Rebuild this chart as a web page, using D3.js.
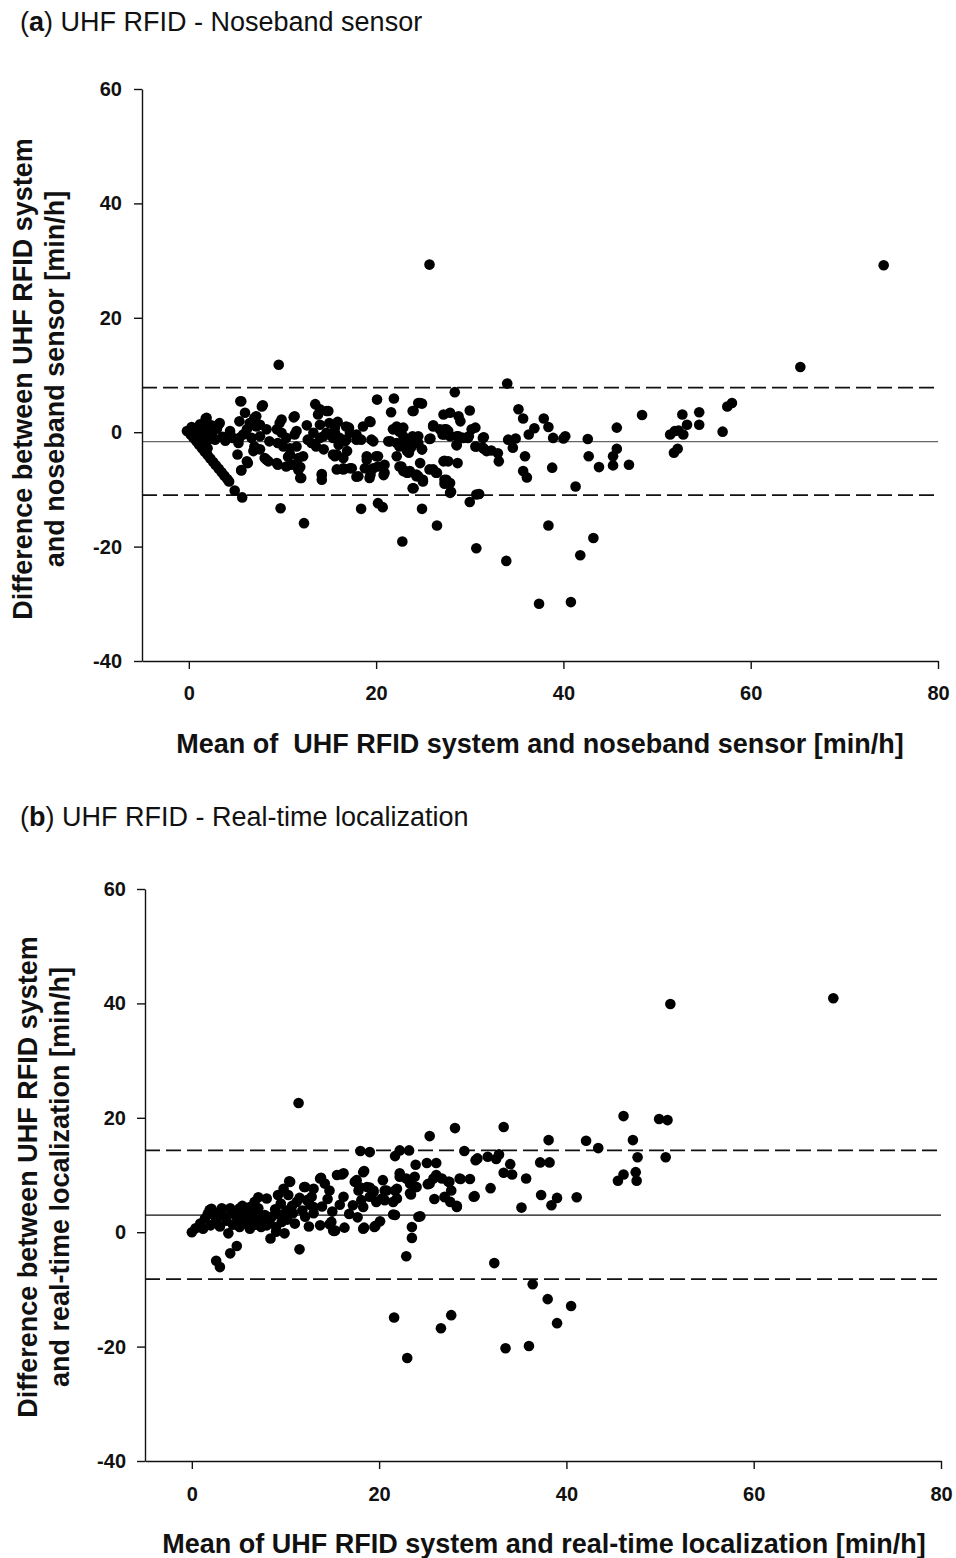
<!DOCTYPE html>
<html>
<head>
<meta charset="utf-8">
<script src="https://cdn.jsdelivr.net/npm/d3@7"></script>
<style>
  body { margin: 0; background: #fff; }
  svg text { font-family: Arial, "Liberation Sans", sans-serif; }
</style>
</head>
<body>
<svg id="mysvg"></svg>
<script>
const w = 956, h = 1558;

// tick values
const xTicks = [0, 20, 40, 60, 80];
const yTicks = [-40, -20, 0, 20, 40, 60];

// limits of agreement (mean difference, upper, lower)
const limitsA = [-1.65, 7.8, -11.0];
const limitsB = [3.0, 14.3, -8.2];

// panel (a): [mean, difference]
const pointsA = [
  [74.2,29.2],[65.3,11.4],[58.0,5.1],[57.5,4.5],[57.0,0.1],[54.5,3.5],[54.5,1.3],[52.7,3.1],[53.2,1.3],[51.4,-0.4],
  [51.9,0.2],[52.3,0.3],[52.8,-0.4],[52.2,-2.9],[51.8,-3.6],[48.4,3.0],[45.7,0.8],[45.7,-2.9],[45.3,-4.2],[45.3,-5.8],
  [47.0,-5.7],[43.8,-6.1],[42.7,-4.2],[42.6,-1.2],[40.2,-0.7],[40.0,-1.1],[41.3,-9.5],[43.2,-18.5],[41.8,-21.5],[40.8,-29.7],
  [37.4,-30.0],[33.9,-22.5],[30.7,-20.3],[38.4,-16.3],[25.7,29.3],[9.6,11.8],[34.0,8.5],
  [28.4,7.0],[24.7,5.1],[24.9,5.0],[24.0,3.7],[27.2,3.1],[27.9,3.4],[28.8,2.8],[29.0,1.9],[30.0,3.8],[26.1,1.2],
  [27.3,0.5],[27.7,0.2],[27.1,-0.4],[27.9,-0.7],[28.8,-0.7],[29.8,-1.0],[30.2,0.5],[25.8,-1.1],[23.9,-0.7],[23.3,-1.3],
  [28.6,-2.3],[30.7,-2.5],[31.5,-0.9],[31.5,-2.9],[32.3,-3.2],[33.0,-3.7],[33.1,-5.1],[34.1,-1.3],[34.9,-1.1],[34.6,-2.7],
  [35.2,4.0],[35.7,2.4],[36.3,-0.4],[36.9,0.7],[37.9,2.4],[38.4,0.9],[38.9,-1.0],[35.9,-4.2],[35.7,-6.8],[36.1,-7.9],
  [38.8,-6.2],[26.5,-16.3],[24.9,-13.4],[22.8,-19.1],[30.0,-12.2],[31.0,-10.8],[27.9,-10.6],[27.9,-8.9],[27.5,-8.3],[27.3,-9.0],
  [26.1,-6.5],[26.5,-7.1],[27.2,-5.1],[27.7,-5.1],[28.7,-5.4],[24.7,-5.4],[24.5,-7.7],[25.0,-8.6],[24.0,-9.8],[22.9,-6.8],
  [23.4,-7.1],[22.7,-6.0],[22.9,-2.2],[23.5,-3.6],[24.9,-3.0],[22.9,0.8],
  [5.6,5.4],[7.8,4.5],[1.8,2.4],[3.2,1.4],[0.3,0.9],[4.9,-10.2],[5.7,-11.4],[9.8,-13.3],[12.3,-15.9],[18.4,-13.4],
  [20.2,-12.4],[20.7,-13.1],[20.1,5.7],[21.9,5.9],[21.6,3.5],[23.9,3.7],[13.5,4.9],[14.0,4.0],[14.9,3.7],[11.2,2.6],
  [9.9,2.2],[12.6,1.2],[15.9,1.8],[19.4,1.8],[17.1,0.8],[4.4,-0.1],[5.4,-1.0],[6.2,0.5],[7.0,2.5],[7.2,1.0],
  [7.6,-0.7],[8.3,-4.8],[6.3,-5.4],[5.6,-6.7],[5.2,-3.9],[9.4,0.5],[9.5,-5.7],[10.4,-6.0],[10.8,-3.9],[12.2,-4.2],
  [11.9,-6.1],[11.9,-8.0],[14.2,-7.3],[14.2,-8.3],[11.3,-0.4],[12.7,-1.3],[13.6,-2.5],[14.4,-0.7],[15.8,-3.9],[16.5,-6.5],
  [17.2,-6.3],[18.1,-7.7],[19.0,-4.2],[19.4,-7.4],[19.7,-6.3],[20.2,-4.2],[20.9,-7.1],[22.5,-6.0],[23.3,-7.1],[24.3,-7.7],
  [17.9,-1.3],[16.8,-1.3],[19.7,-1.6],[21.3,-1.6],[22.2,0.5],[22.9,-0.7],[22.2,-4.2],[23.6,-3.0],[24.5,-0.7],[24.5,5.1],
  [0.2,-0.4],[0.5,-1.0],[0.8,-1.6],[1.1,-2.2],[1.4,-2.8],[1.7,-3.4],[2.0,-4.0],[2.3,-4.6],[2.6,-5.2],[2.9,-5.8],
  [3.2,-6.4],[3.5,-7.0],[3.8,-7.6],[4.1,-8.2],[4.3,-8.6],
  [0.3,0.5],[-0.2,0.2],[1.9,2.5],[1.5,1.0],[1.5,-0.7],[2.1,0.5],[3.3,1.6],[5.5,5.4],[7.9,4.7],[6.0,3.4],
  [5.4,1.9],[6.5,1.6],[4.4,0.2],[4.7,-1.0],[5.3,-1.9],[5.8,-0.4],[6.7,-1.0],[7.0,-2.5],[7.6,-3.0],[6.9,-3.3],
  [6.2,-5.1],[5.6,-6.6],[7.2,2.8],[7.6,1.3],[8.3,0.5],[8.6,-1.6],[8.1,-4.5],[8.5,-5.1],[9.4,-5.4],[9.7,1.6],
  [9.9,-0.1],[9.5,-1.9],[10.4,-1.0],[10.1,-2.5],[10.8,-2.8],[11.3,2.8],[11.5,0.2],[11.5,-2.5],[11.7,-4.5],[10.6,-4.3],
  [11.0,-5.7],[11.7,-6.6],[12.0,-8.0],[13.8,3.1],[14.7,3.7],[15.0,1.6],[14.0,1.3],[13.3,-0.1],[13.1,-1.9],[14.0,-1.0],
  [14.7,-0.1],[15.6,0.8],[14.4,-3.0],[15.6,-4.2],[15.4,-1.0],[16.0,-2.2],[15.8,-6.5],[14.2,-7.5],
  [16.8,1.0],[17.2,-0.1],[17.9,-0.4],[18.6,1.0],[19.3,1.9],[18.4,-1.3],[16.7,-1.6],[15.6,-0.1],[16.1,-1.0],[19.5,-1.3],
  [21.8,0.5],[22.2,1.0],[22.5,0.1],[23.4,-1.6],[24.0,-1.0],[24.5,-1.9],[24.9,-3.0],[23.8,-2.5],[21.5,-1.6],[22.2,-1.9],
  [22.5,-2.5],[23.3,-3.3],[25.7,-1.2],[26.1,1.0],[26.8,0.5],[27.3,-0.4],[27.5,0.5],[28.6,-0.7],[29.3,-1.0],[29.9,-0.7],
  [30.6,0.8],[31.4,-1.0],[30.6,-2.5],[31.4,-2.7],[31.8,-3.3],[28.6,-2.2],[15.4,-3.9],[16.5,-4.5],[16.9,-3.3],[16.5,-6.3],
  [17.4,-6.3],[17.9,-7.8],[19.0,-4.8],[18.8,-6.3],[19.5,-6.5],[19.3,-8.0],[20.0,-4.2],[20.2,-6.0],[20.8,-7.5],[20.9,-5.7],
  [23.1,-6.8],[23.6,-6.8],[24.3,-7.4],[25.0,-8.3],[23.9,-9.8],[25.7,-6.5],[26.4,-7.1],[27.3,-5.0],[27.3,-8.3],[27.5,-8.9],
  [28.0,-10.4],[30.7,-10.9],
  [0.8,0.3],[1.0,-0.5],[1.3,0.0],[1.6,-0.9],[1.8,-1.8],[2.2,-1.2],[2.5,-0.3],[2.8,-1.3],[3.0,0.6],[3.6,-0.8],
  [2.4,1.2],[1.2,1.4],[0.6,-0.1],[3.9,-1.5],[1.7,-2.3],[2.0,-2.8]
];

// panel (b): [mean, difference]
const pointsB = [
  [68.5,40.9],[51.1,39.9],[11.4,22.6],[46.1,20.3],[49.9,19.8],[50.8,19.6],[28.1,18.2],[33.3,18.4],[25.4,16.8],[38.1,16.1],
  [42.1,16.0],[43.4,14.7],[47.1,16.1],[22.2,14.3],[23.2,14.3],[29.1,14.2],[30.3,12.6],[30.5,12.9],[31.6,13.2],[32.5,12.8],
  [32.8,13.6],[25.1,12.1],[26.1,12.1],[23.9,11.8],[34.0,11.9],[37.2,12.2],[38.2,12.2],[47.6,13.1],[50.6,13.1],[33.3,10.4],
  [34.2,10.1],[35.7,9.4],[45.5,9.0],[46.1,10.1],[47.4,10.5],[47.5,9.0],[25.2,8.4],[25.8,9.4],[26.1,10.0],[26.7,9.4],
  [27.5,8.8],[28.7,9.3],[29.7,9.3],[22.2,9.7],[22.9,9.4],[23.8,9.7],[23.3,8.5],[23.9,7.9],[27.7,7.3],[31.9,7.7],
  [23.4,6.6],[25.9,5.8],[27.0,6.1],[27.6,5.3],[28.3,4.6],[30.2,6.3],[37.3,6.5],[39.0,6.0],[38.4,4.7],[41.1,6.1],
  [35.2,4.3],[24.4,2.8],[23.5,0.9],[23.5,-1.0],[22.9,-4.2],[32.3,-5.4],
  [33.5,-20.3],[36.0,-19.9],[36.4,-9.1],[38.0,-11.7],[39.0,-15.9],[40.5,-12.9],[27.7,-14.5],[26.6,-16.8],[21.6,-14.9],[23.0,-22.0],
  [11.5,-3.0],[4.8,-2.4],[4.1,-3.7],[2.6,-5.0],[3.0,-6.1],[8.4,-1.1],[9.0,0.1],[9.9,-0.2],
  [18.0,14.2],[19.0,14.0],[21.7,13.3],[16.0,10.1],[18.4,10.7],[13.8,9.5],[10.4,8.9],[12.0,7.9],[13.0,7.6],[9.8,7.6],
  [9.2,6.5],[7.1,6.1],[8.0,5.9],[17.6,9.1],[17.9,7.9],[19.0,7.8],[19.4,7.3],[20.3,5.9],[20.8,7.3],[21.9,7.6],
  [21.5,3.1],[24.2,2.7],[13.7,1.2],[14.7,1.4],[15.2,0.2],[16.3,0.8],[18.4,0.8],[19.6,1.1],[20.1,1.9],
  [0.0,0.0],[0.4,0.7],[0.9,1.5],[1.2,0.6],[1.4,2.4],[1.9,3.9],[2.1,4.1],[1.7,3.2],[3.2,4.2],[4.1,4.2],
  [5.1,4.2],[6.0,4.2],[7.1,4.2],[2.6,2.0],[3.7,2.0],[5.1,2.0],[6.2,2.0],[7.4,2.0],[8.3,2.0],[3.9,-0.2],
  [5.1,0.9],[6.2,0.6],[7.4,0.9],[9.0,0.9],[10.1,3.8],[11.2,5.3],[12.3,5.6],[13.0,4.4],[13.9,4.5],[10.8,3.3],
  [12.1,2.7],[13.0,3.3],
  [16.2,10.3],[18.3,10.5],[17.4,8.8],[17.8,7.3],[18.7,7.9],[19.4,7.0],[19.0,6.2],[20.4,9.1],[20.6,7.3],[21.7,7.3],
  [22.2,10.3],[24.0,7.9],[23.3,6.8],[25.4,8.5],[27.4,8.8],[27.0,6.2],[28.3,4.4],[28.6,9.4],[30.1,6.2],[21.7,3.0],
  [19.5,0.9],[18.3,0.6],[15.3,0.3],[14.7,7.3],[16.2,6.2],[17.2,4.7],[18.1,5.6],[18.3,4.4],[19.7,5.3],[20.6,5.6],
  [21.5,5.3],[21.9,5.9],
  [10.5,8.8],[10.3,6.5],[12.1,7.9],[13.7,9.4],[14.2,8.5],[15.5,10.0],[6.7,5.3],[6.2,4.4],[14.9,1.8],[15.1,0.3],
  [2.3,3.0],[2.9,3.5],[3.5,2.8],[4.5,3.2],[5.6,3.0],[6.5,3.4],[7.0,2.6],[7.8,3.0],[8.6,2.8],[9.5,3.0],
  [10.2,2.2],[11.0,1.5],[11.8,3.8],[12.6,4.8],[2.0,1.2],[3.0,1.0],[4.4,1.3],[5.8,1.5],[6.8,1.3],[8.0,1.2],
  [9.6,1.8],[4.8,2.6],[5.4,4.6],[8.9,4.0],[9.5,5.0],[10.7,4.6],[11.5,6.0],[12.8,6.2],[14.5,5.8],[15.0,3.6],
  [15.8,4.8],[16.8,3.2],[17.7,2.6],[12.5,1.0]
];

const svg = d3.select("#mysvg")
    .attr("width", w)
    .attr("height", h)
    .style("background", "#fff");

function drawPanel(cfg) {
    const xScale = d3.scaleLinear()
        .domain([-5, 80])
        .range([cfg.left, cfg.left + 796]);

    const yScale = d3.scaleLinear()
        .domain([-40, 60])
        .range([cfg.bottom, cfg.bottom - 572]);

    const g = svg.append("g");

    // title
    const title = g.append("text")
        .attr("x", 20)
        .attr("y", cfg.titleY)
        .attr("font-size", 27)
        .attr("fill", "#111");
    title.append("tspan").text("(");
    title.append("tspan").attr("font-weight", "bold").text(cfg.letter);
    title.append("tspan").text(") " + cfg.title);

    // mean difference line and limits of agreement
    g.append("line")
        .attr("x1", xScale(-5)).attr("x2", xScale(80))
        .attr("y1", yScale(cfg.limits[0])).attr("y2", yScale(cfg.limits[0]))
        .attr("stroke", cfg.meanColor)
        .attr("stroke-width", 1.3);

    g.selectAll(".loa")
        .data(cfg.limits.slice(1))
        .enter().append("line")
        .attr("class", "loa")
        .attr("x1", xScale(-5)).attr("x2", xScale(80))
        .attr("y1", d => yScale(d)).attr("y2", d => yScale(d))
        .attr("stroke", "#111")
        .attr("stroke-width", 1.6)
        .attr("stroke-dasharray", "15,6");

    // points
    g.selectAll(".dot")
        .data(cfg.points)
        .enter().append("circle")
        .attr("class", "dot")
        .attr("cx", d => xScale(d[0]))
        .attr("cy", d => yScale(d[1]))
        .attr("r", 5.3)
        .attr("fill", "#000");

    // Create X axis
    const xAxis = g.append("g")
        .attr("transform", "translate(0," + cfg.bottom + ")")
        .call(d3.axisBottom(xScale).tickValues(xTicks).tickFormat(d => String(d))
            .tickSize(8).tickSizeOuter(0).tickPadding(cfg.xPad));

    // Create Y axis
    const yAxis = g.append("g")
        .attr("transform", "translate(" + cfg.left + ",0)")
        .call(d3.axisLeft(yScale).tickValues(yTicks).tickFormat(d => String(d))
            .tickSize(8).tickSizeOuter(0).tickPadding(cfg.yPad));

    [xAxis, yAxis].forEach(ax => {
        ax.select(".domain").attr("stroke", "#111").attr("stroke-width", 1.4);
        ax.selectAll(".tick line").attr("stroke", "#111").attr("stroke-width", 1.4);
        ax.selectAll("text")
            .attr("font-family", "Arial, 'Liberation Sans', sans-serif")
            .attr("font-size", 20)
            .attr("font-weight", "bold")
            .attr("fill", "#111");
    });

    // axis labels
    g.append("text")
        .attr("x", cfg.xLabelX)
        .attr("y", cfg.xLabelY)
        .attr("text-anchor", "middle")
        .attr("font-size", 27)
        .attr("font-weight", "bold")
        .attr("fill", "#111")
        .style("white-space", "pre")
        .text(cfg.xLabel);

    cfg.yLabel.forEach((t, i) => {
        g.append("text")
            .attr("transform", "translate(" + cfg.yLabelX[i] + "," + cfg.yLabelMid + ") rotate(-90)")
            .attr("text-anchor", "middle")
            .attr("font-size", 27)
            .attr("font-weight", "bold")
            .attr("fill", "#111")
            .text(t);
    });
}

drawPanel({
    letter: "a",
    title: "UHF RFID - Noseband sensor",
    titleY: 31,
    left: 142,
    bottom: 661,
    points: pointsA,
    limits: limitsA,
    meanColor: "#666",
    xPad: 17,
    yPad: 12,
    xLabel: "Mean of  UHF RFID system and noseband sensor [min/h]",
    xLabelX: 540,
    xLabelY: 753,
    yLabel: ["Difference between UHF RFID system", "and noseband sensor [min/h]"],
    yLabelX: [32, 64],
    yLabelMid: 379
});

drawPanel({
    letter: "b",
    title: "UHF RFID - Real-time localization",
    titleY: 826,
    left: 145,
    bottom: 1461,
    points: pointsB,
    limits: limitsB,
    meanColor: "#111",
    xPad: 18,
    yPad: 11,
    xLabel: "Mean of UHF RFID system and real-time localization [min/h]",
    xLabelX: 544,
    xLabelY: 1553,
    yLabel: ["Difference between UHF RFID system", "and real-time localization [min/h]"],
    yLabelX: [37, 69],
    yLabelMid: 1177
});
</script>
</body>
</html>
